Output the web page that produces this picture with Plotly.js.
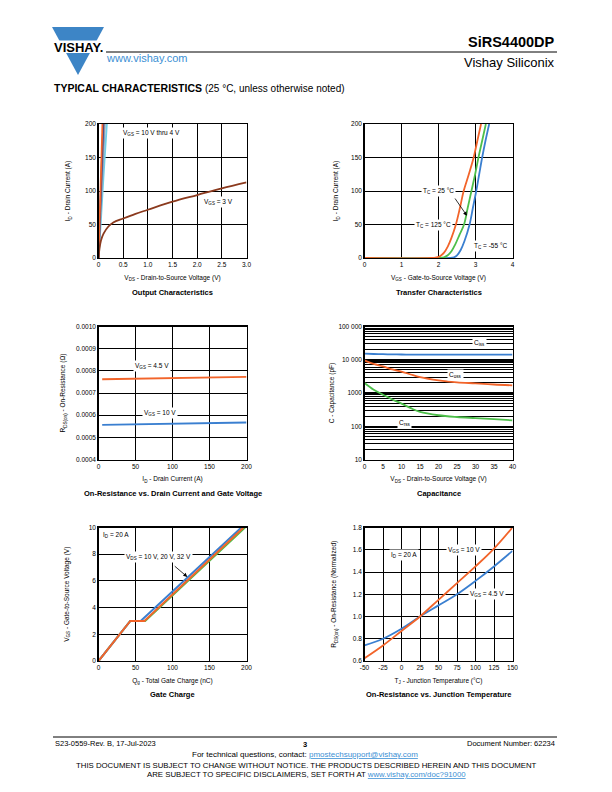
<!DOCTYPE html>
<html><head><meta charset="utf-8">
<script src="https://cdn.plot.ly/plotly-3.0.1.min.js"></script>
<style>html,body{margin:0;padding:0;background:#fff}</style>
</head><body><div id="chart" style="width:612px;height:792px"></div>
<script>
// ---------- DATA ----------
// Output characteristics (VDS in V, ID in A)
const outVds3 = [0, 0.02, 0.05, 0.1, 0.2, 0.3, 0.5, 0.75, 1.0, 1.5, 2.0, 2.5, 3.0];
const outId3  = [0, 14, 26, 36, 47, 53, 59, 66, 72, 84, 94, 104, 113];
const outVdsVgs10 = [0, 0.08];   const outIdVgs10 = [0, 200];
const outVdsVgs7  = [0, 0.095];  const outIdVgs7  = [0, 200];
const outVdsVgs5  = [0, 0.11];   const outIdVgs5  = [0, 200];
const outVdsVgs45 = [0, 0.13];   const outIdVgs45 = [0, 200];
const outVdsVgs4  = [0, 0.04, 0.1, 0.17]; const outIdVgs4 = [0, 45, 120, 200];

// Transfer characteristics (VGS in V, ID in A)
const tfVgs125 = [0, 1.8, 1.95, 2.05, 2.15, 2.25, 2.35, 2.47, 2.58, 2.68, 2.82, 2.95, 3.05, 3.15];
const tfId125  = [0, 0, 1, 3, 8, 17, 30, 50, 75, 100, 125, 150, 175, 200];
const tfVgs25  = [0, 2.0, 2.15, 2.25, 2.35, 2.45, 2.57, 2.69, 2.79, 2.89, 2.99, 3.08, 3.18, 3.28];
const tfId25   = [0, 0, 1, 4, 10, 20, 35, 50, 75, 100, 125, 150, 175, 200];
const tfVgsM55 = [0, 2.3, 2.42, 2.5, 2.6, 2.7, 2.84, 2.93, 3.02, 3.1, 3.18, 3.27, 3.37];
const tfIdM55  = [0, 0, 1, 4, 12, 25, 50, 75, 100, 125, 150, 175, 200];

// On-resistance vs drain current (ID in A, R in ohm)
const ronId   = [5, 50, 100, 150, 200];
const ronVgs45 = [0.000762, 0.000765, 0.000767, 0.000770, 0.000773];
const ronVgs10 = [0.000556, 0.000559, 0.000562, 0.000565, 0.000567];

// Capacitance (VDS in V, C in pF)
const capVds = [0, 2.5, 5, 7.5, 10, 12.5, 15, 20, 25, 30, 35, 40];
const capCiss = [15200, 14900, 14700, 14500, 14400, 14300, 14300, 14200, 14200, 14200, 14200, 14200];
const capCoss = [9600, 7500, 6300, 5100, 4400, 3600, 3000, 2400, 2100, 1950, 1800, 1700];
const capCrss = [2000, 1250, 890, 640, 480, 350, 270, 214, 190, 176, 163, 151];

// Gate charge (Qg in nC, VGS in V)
const gcQg10 = [0, 43, 57, 193];  const gcVgs10 = [0, 3, 3, 10];
const gcQg20 = [0, 43, 62, 196];  const gcVgs20 = [0, 3, 3, 10];
const gcQg32 = [0, 43, 63, 198];  const gcVgs32 = [0, 3, 3, 10];

// On-resistance vs junction temperature (normalized)
const tjTemp  = [-50, -25, 0, 25, 50, 75, 100, 125, 150];
const tjRon10 = [0.625, 0.74, 0.87, 1.0, 1.15, 1.30, 1.45, 1.61, 1.80];
const tjRon45 = [0.74, 0.80, 0.89, 1.0, 1.10, 1.20, 1.32, 1.45, 1.59];

// tick labels
const outXTicks = [0, 0.5, 1.0, 1.5, 2.0, 2.5, 3.0];
const outXTickText = ['0', '0.5', '1.0', '1.5', '2.0', '2.5', '3.0'];
const capYTicks = [10, 100, 1000, 10000, 100000];
const capYTickText = ['10', '100', '1000', '10 000', '100 000'];
const tjXTicks = [-50, -25, 0, 25, 50, 75, 100, 125, 150];
const tjXTickText = ['-50', '-25', '0', '25', '50', '75', '100', '125', '150'];

// ---------- STYLE ----------
const FONT = 'Liberation Sans, Arial, sans-serif';
const ORANGE = '#f2642a', BLUE = '#3a7fd0', GREEN = '#4dbf4a', BROWN = '#8b3a1e';
const PX = v => v / 612, PY = v => 1 - v / 792;
const colL = [PX(98.5), PX(246.5)], colR = [PX(364.5), PX(512.5)];
const row1 = [PY(258), PY(124)], row2 = [PY(459.5), PY(326.5)], row3 = [PY(661), PY(527.5)];

function axis(domain, range, opts) {
  return Object.assign({
    domain: domain, range: range, showline: true, mirror: true, linecolor: 'black', linewidth: 1.3,
    showgrid: true, gridcolor: 'black', gridwidth: 1, zeroline: false, ticks: '', ticklen: 0,
    tickfont: {family: FONT, size: 6.5, color: 'black'}, fixedrange: true
  }, opts);
}
function ttl(text, standoff) {
  return {text: text, font: {family: FONT, size: 6.5, color: 'black'}, standoff: standoff};
}

const traces = [];
function line(x, y, xa, ya, color, w, shape) {
  traces.push({x: x, y: y, xaxis: xa, yaxis: ya, mode: 'lines', showlegend: false, hoverinfo: 'skip',
    line: {color: color, width: w || 1.8, shape: shape || 'linear', smoothing: 1}});
}

// chart 1
line(outVdsVgs4, outIdVgs4, 'x', 'y', '#6fd0e8', 1.8, 'spline');
line(outVdsVgs45, outIdVgs45, 'x', 'y', '#8fa8c8');
line(outVdsVgs5, outIdVgs5, 'x', 'y', '#8c8c8c');
line(outVdsVgs7, outIdVgs7, 'x', 'y', '#2e3a92');
line(outVdsVgs10, outIdVgs10, 'x', 'y', ORANGE);
line(outVds3, outId3, 'x', 'y', BROWN, 1.8, 'spline');
// chart 2
line(tfVgsM55, tfIdM55, 'x2', 'y2', BLUE, 1.8, 'spline');
line(tfVgs25, tfId25, 'x2', 'y2', GREEN, 1.8, 'spline');
line(tfVgs125, tfId125, 'x2', 'y2', ORANGE, 1.8, 'spline');
// chart 3
line(ronId, ronVgs45, 'x3', 'y3', ORANGE);
line(ronId, ronVgs10, 'x3', 'y3', BLUE);
// chart 4
line(capVds, capCiss, 'x4', 'y4', BLUE, 1.8, 'spline');
line(capVds, capCoss, 'x4', 'y4', ORANGE, 1.8, 'spline');
line(capVds, capCrss, 'x4', 'y4', GREEN, 1.8, 'spline');
// chart 5
line(gcQg32, gcVgs32, 'x5', 'y5', GREEN, 2);
line(gcQg10, gcVgs10, 'x5', 'y5', BLUE, 2);
line(gcQg20, gcVgs20, 'x5', 'y5', ORANGE, 2);
// chart 6
line(tjTemp, tjRon45, 'x6', 'y6', BLUE, 1.8, 'spline');
line(tjTemp, tjRon10, 'x6', 'y6', ORANGE, 1.8, 'spline');

function ann(x, y, xr, yr, text, o) {
  return Object.assign({x: x, y: y, xref: xr, yref: yr, text: text, showarrow: false,
    font: {family: FONT, size: 6.5, color: 'black'}, xanchor: 'center', yanchor: 'middle'}, o || {});
}
const WB = {bgcolor: 'white', borderpad: 1};
const TF = {font: {family: FONT, size: 7.5, color: 'black'}};
const annotations = [
  // chart labels
  ann(1.08, 187, 'x', 'y', 'V<sub>GS</sub> = 10 V thru 4 V', WB),
  ann(2.44, 83, 'x', 'y', 'V<sub>GS</sub> = 3 V', WB),
  ann(2.0, 100, 'x2', 'y2', 'T<sub>C</sub> = 25 °C', WB),
  ann(1.86, 50, 'x2', 'y2', 'T<sub>C</sub> = 125 °C', WB),
  ann(3.4, 18, 'x2', 'y2', 'T<sub>C</sub> = -55 °C', WB),
  {x: 2.77, y: 63, xref: 'x2', yref: 'y2', ax: 2.42, ay: 91, axref: 'x2', ayref: 'y2', text: '', showarrow: true, arrowhead: 2, arrowsize: 1, arrowwidth: 0.8, arrowcolor: 'black'},
  ann(72, 0.000823, 'x3', 'y3', 'V<sub>GS</sub> = 4.5 V', WB),
  ann(83, 0.000608, 'x3', 'y3', 'V<sub>GS</sub> = 10 V', WB),
  ann(31, 4.5, 'x4', 'y4', 'C<sub>iss</sub>', WB),
  ann(24.5, 3.55, 'x4', 'y4', 'C<sub>oss</sub>', WB),
  ann(10.7, 2.11, 'x4', 'y4', 'C<sub>rss</sub>', WB),
  ann(24, 9.45, 'x5', 'y5', 'I<sub>D</sub> = 20 A', WB),
  ann(81, 7.77, 'x5', 'y5', 'V<sub>DS</sub> = 10 V, 20 V, 32 V', WB),
  {x: 120, y: 6.3, xref: 'x5', yref: 'y5', ax: 101, ay: 7.2, axref: 'x5', ayref: 'y5', text: '', showarrow: true, arrowhead: 2, arrowsize: 1, arrowwidth: 0.8, arrowcolor: 'black'},
  ann(4, 1.55, 'x6', 'y6', 'I<sub>D</sub> = 20 A', WB),
  ann(84, 1.6, 'x6', 'y6', 'V<sub>GS</sub> = 10 V', WB),
  ann(115, 1.2, 'x6', 'y6', 'V<sub>GS</sub> = 4.5 V', WB),
  // chart titles
  ann(PX(172.5), PY(292), 'paper', 'paper', '<b>Output Characteristics</b>', TF),
  ann(PX(438.5), PY(292), 'paper', 'paper', '<b>Transfer Characteristics</b>', TF),
  ann(PX(172.5), PY(493), 'paper', 'paper', '<b>On-Resistance vs. Drain Current and Gate Voltage</b>', TF),
  ann(PX(438.5), PY(493), 'paper', 'paper', '<b>Capacitance</b>', TF),
  ann(PX(172.5), PY(694), 'paper', 'paper', '<b>Gate Charge</b>', TF),
  ann(PX(438.5), PY(694), 'paper', 'paper', '<b>On-Resistance vs. Junction Temperature</b>', TF),
  // header
  ann(PX(78), PY(47), 'paper', 'paper', '<b>VISHAY.</b>', {font: {family: FONT, size: 13, color: 'black'}}),
  ann(PX(104), PY(58.5), 'paper', 'paper', 'www.vishay.com', {xanchor: 'left', font: {family: FONT, size: 11, color: '#3b8fd4'}}),
  ann(PX(557), PY(42), 'paper', 'paper', '<b>SiRS4400DP</b>', {xanchor: 'right', font: {family: FONT, size: 14.5, color: 'black'}}),
  ann(PX(557), PY(62), 'paper', 'paper', 'Vishay Siliconix', {xanchor: 'right', font: {family: FONT, size: 13, color: 'black'}}),
  ann(PX(52), PY(88), 'paper', 'paper', '<b>TYPICAL CHARACTERISTICS</b> <span style="font-size:10px">(25 °C, unless otherwise noted)</span>', {xanchor: 'left', font: {family: FONT, size: 10.5, color: 'black'}}),
  // footer
  ann(PX(53), PY(743.5), 'paper', 'paper', 'S23-0559-Rev. B, 17-Jul-2023', {xanchor: 'left', font: {family: FONT, size: 7.5, color: 'black'}}),
  ann(PX(305), PY(744.5), 'paper', 'paper', '<b>3</b>', {font: {family: FONT, size: 7.5, color: 'black'}}),
  ann(PX(557), PY(743.5), 'paper', 'paper', 'Document Number: 62234', {xanchor: 'right', font: {family: FONT, size: 7.5, color: 'black'}}),
  ann(PX(305), PY(754.5), 'paper', 'paper', 'For technical questions, contact: <span style="color:#3b8fd4;text-decoration:underline">pmostechsupport@vishay.com</span>', {font: {family: FONT, size: 8, color: 'black'}}),
  ann(PX(306), PY(765.5), 'paper', 'paper', 'THIS DOCUMENT IS SUBJECT TO CHANGE WITHOUT NOTICE. THE PRODUCTS DESCRIBED HEREIN AND THIS DOCUMENT', {font: {family: FONT, size: 7.8, color: 'black'}}),
  ann(PX(306), PY(774.5), 'paper', 'paper', 'ARE SUBJECT TO SPECIFIC DISCLAIMERS, SET FORTH AT <span style="color:#3b8fd4;text-decoration:underline">www.vishay.com/doc?91000</span>', {font: {family: FONT, size: 7.8, color: 'black'}})
];

const shapes = [
  {type: 'path', xref: 'paper', yref: 'paper', path: `M ${PX(52)},${PY(27)} L ${PX(104)},${PY(27)} L ${PX(78)},${PY(75)} Z`, fillcolor: '#3d85c6', line: {width: 0}},
  {type: 'rect', xref: 'paper', yref: 'paper', x0: PX(45), x1: PX(105), y0: PY(53), y1: PY(40.5), fillcolor: 'white', line: {width: 0}},
  {type: 'line', xref: 'paper', yref: 'paper', x0: PX(106), x1: PX(557), y0: PY(52), y1: PY(52), line: {color: 'black', width: 1}},
  {type: 'line', xref: 'paper', yref: 'paper', x0: PX(53), x1: PX(557), y0: PY(737), y1: PY(737), line: {color: 'black', width: 1}}
];

const layout = {
  width: 612, height: 792, margin: {l: 0, r: 0, t: 0, b: 0}, paper_bgcolor: 'white', plot_bgcolor: 'white',
  showlegend: false, font: {family: FONT, color: 'black'},
  xaxis: axis(colL, [0, 3], {anchor: 'y', tickvals: outXTicks, ticktext: outXTickText, title: ttl('V<sub>DS</sub> - Drain-to-Source Voltage (V)', 8)}),
  yaxis: axis(row1, [0, 200], {anchor: 'x', dtick: 50, title: ttl('I<sub>D</sub> - Drain Current (A)', 13)}),
  xaxis2: axis(colR, [0, 4], {anchor: 'y2', dtick: 1, title: ttl('V<sub>GS</sub> - Gate-to-Source Voltage (V)', 8)}),
  yaxis2: axis(row1, [0, 200], {anchor: 'x2', dtick: 50, title: ttl('I<sub>D</sub> - Drain Current (A)', 11)}),
  xaxis3: axis(colL, [0, 200], {anchor: 'y3', dtick: 50, title: ttl('I<sub>D</sub> - Drain Current (A)', 8)}),
  yaxis3: axis(row2, [0.0004, 0.0010], {anchor: 'x3', dtick: 0.0001, tickformat: '.4f', title: ttl('R<sub>DS(on)</sub> - On-Resistance (Ω)', 9)}),
  xaxis4: axis(colR, [0, 40], {anchor: 'y4', dtick: 5, showgrid: false, title: ttl('V<sub>DS</sub> - Drain-to-Source Voltage (V)', 8)}),
  yaxis4: axis(row2, [1, 5], {anchor: 'x4', type: 'log', tickvals: capYTicks, ticktext: capYTickText, gridwidth: 1.5,
    minor: {dtick: 'D1', showgrid: true, gridcolor: 'black', gridwidth: 1, ticks: ''}, title: ttl('C - Capacitance (pF)', 3)}),
  xaxis5: axis(colL, [0, 200], {anchor: 'y5', dtick: 50, title: ttl('Q<sub>g</sub> - Total Gate Charge (nC)', 8)}),
  yaxis5: axis(row3, [0, 10], {anchor: 'x5', dtick: 2, title: ttl('V<sub>GS</sub> - Gate-to-Source Voltage (V)', 18)}),
  xaxis6: axis(colR, [-50, 150], {anchor: 'y6', tickvals: tjXTicks, ticktext: tjXTickText, title: ttl('T<sub>J</sub> - Junction Temperature (°C)', 8)}),
  yaxis6: axis(row3, [0.6, 1.8], {anchor: 'x6', dtick: 0.2, tickformat: '.1f', title: ttl('R<sub>DS(on)</sub> - On-Resistance (Normalized)', 15)}),
  annotations: annotations, shapes: shapes
};

Plotly.newPlot('chart', traces, layout, {staticPlot: true, displayModeBar: false});
</script>
</body></html>
